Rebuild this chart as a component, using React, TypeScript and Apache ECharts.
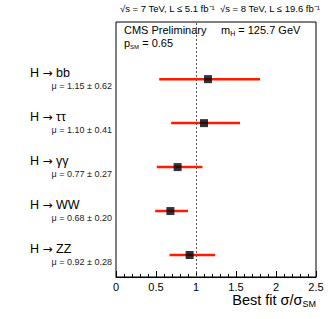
import React, { useEffect, useRef } from "react";
import * as echarts from "echarts";

const channels = ["bb", "ττ", "γγ", "WW", "ZZ"];
const muValues = [1.15, 1.10, 0.77, 0.68, 0.92];
const muErrors = [0.62, 0.41, 0.27, 0.20, 0.28];
const lowEdges = [0.54, 0.69, 0.51, 0.49, 0.67];
const highEdges = [1.80, 1.55, 1.08, 0.90, 1.24];
const rowPositions = [4.5, 3.5, 2.5, 1.5, 0.5];
const xTicks = [0, 0.5, 1, 1.5, 2, 2.5];

const FONT = "'Liberation Sans', Arial, Helvetica, sans-serif";

export default function App() {
  const ref = useRef<HTMLDivElement>(null);
  useEffect(() => {
    if (!ref.current) return;
    const chart = echarts.init(ref.current, null, { renderer: "svg" });
    const rows = channels.map((c, i) => [lowEdges[i], highEdges[i], rowPositions[i], i]);
    const points = muValues.map((v, i) => [v, rowPositions[i]]);
    chart.setOption({
      animation: false,
      backgroundColor: "#fff",
      textStyle: { fontFamily: FONT },
      grid: {
        left: 116,
        right: 16,
        top: 22,
        bottom: 42,
        show: true,
        borderColor: "#000",
        borderWidth: 1,
        backgroundColor: "transparent",
      },
      xAxis: {
        type: "value",
        min: 0,
        max: 2.5,
        interval: 0.5,
        axisLine: { lineStyle: { color: "#000", width: 1 } },
        axisTick: { inside: true, length: 6, lineStyle: { color: "#000" } },
        minorTick: { show: true, splitNumber: 5, length: 3, lineStyle: { color: "#000" } },
        splitLine: { show: false },
        axisLabel: {
          color: "#000",
          fontSize: 11,
          margin: 4,
          fontFamily: FONT,
          formatter: (v: number) => (xTicks.includes(v) ? String(v) : ""),
        },
      },
      yAxis: {
        type: "value",
        min: 0,
        max: 5.8,
        show: false,
      },
      series: [
        {
          type: "custom",
          clip: false,
          data: rows,
          renderItem: (params: any, api: any) => {
            const lo = api.coord([api.value(0), api.value(2)]);
            const hi = api.coord([api.value(1), api.value(2)]);
            const zero = api.coord([0, api.value(2)]);
            const idx = api.value(3);
            return {
              type: "group",
              children: [
                {
                  type: "line",
                  shape: { x1: lo[0], y1: lo[1], x2: hi[0], y2: hi[1] },
                  style: { stroke: "#ff1a00", lineWidth: 2.5 },
                },
                {
                  type: "text",
                  x: zero[0] - 86,
                  y: zero[1] - 6,
                  style: {
                    text: "{t|H }{a|→}{t| " + channels[idx] + "}",
                    rich: {
                      t: { fontSize: 12.5, fontFamily: FONT, fill: "#000" },
                      a: { fontSize: 12, fontFamily: "'DejaVu Sans', sans-serif", fill: "#000" },
                    },
                    align: "left",
                    verticalAlign: "middle",
                  },
                },
                {
                  type: "text",
                  x: zero[0] - 4,
                  y: zero[1] + 7,
                  style: {
                    text: "μ = " + muValues[idx].toFixed(2) + " ± " + muErrors[idx].toFixed(2),
                    fontSize: 9,
                    fontFamily: FONT,
                    fill: "#222",
                    align: "right",
                    verticalAlign: "middle",
                  },
                },
              ],
            };
          },
        },
        {
          type: "scatter",
          data: points,
          symbol: "rect",
          symbolSize: 8,
          itemStyle: { color: "#000" },
          z: 5,
          markLine: {
            silent: true,
            symbol: "none",
            label: { show: false },
            lineStyle: { color: "#555", type: [2, 2], width: 1 },
            data: [{ xAxis: 1 }],
          },
        },
      ],
      graphic: [
        {
          type: "text",
          x: 120,
          y: 8,
          style: {
            text: "√s = 7 TeV, L ≤ 5.1 fb⁻¹  √s = 8 TeV, L ≤ 19.6 fb⁻¹",
            fontSize: 9.5,
            fontFamily: FONT,
            fill: "#000",
            align: "left",
            verticalAlign: "middle",
          },
        },
        {
          type: "text",
          x: 124,
          y: 30,
          style: {
            text: "{m|CMS Preliminary}",
            align: "left",
            verticalAlign: "middle",
            rich: { m: { fontSize: 11, fontFamily: FONT, fill: "#000", lineHeight: 14 } },
          },
        },
        {
          type: "text",
          x: 221,
          y: 30,
          style: {
            text: "{m|m}{s|H}{m| = 125.7 GeV}",
            align: "left",
            verticalAlign: "middle",
            rich: {
              m: { fontSize: 11, fontFamily: FONT, fill: "#000", lineHeight: 14 },
              s: { fontSize: 7, fontFamily: FONT, fill: "#000", verticalAlign: "bottom", lineHeight: 8 },
            },
          },
        },
        {
          type: "text",
          x: 124,
          y: 43,
          style: {
            text: "{m|p}{s|SM}{m| = 0.65}",
            align: "left",
            verticalAlign: "middle",
            rich: {
              m: { fontSize: 11, fontFamily: FONT, fill: "#000", lineHeight: 14 },
              s: { fontSize: 6, fontFamily: FONT, fill: "#000", verticalAlign: "bottom", lineHeight: 7 },
            },
          },
        },
        {
          type: "text",
          x: 316,
          y: 300,
          style: {
            text: "{m|Best fit σ/σ}{s|SM}",
            align: "right",
            verticalAlign: "middle",
            rich: {
              m: { fontSize: 14.5, fontFamily: FONT, fill: "#000", lineHeight: 16 },
              s: { fontSize: 9, fontFamily: FONT, fill: "#000", verticalAlign: "bottom", lineHeight: 8 },
            },
          },
        },
      ],
    });
    return () => chart.dispose();
  }, []);
  return (
    <div
      ref={ref}
      style={{ position: "absolute", left: 0, top: 0, width: 332, height: 319 }}
    />
  );
}
